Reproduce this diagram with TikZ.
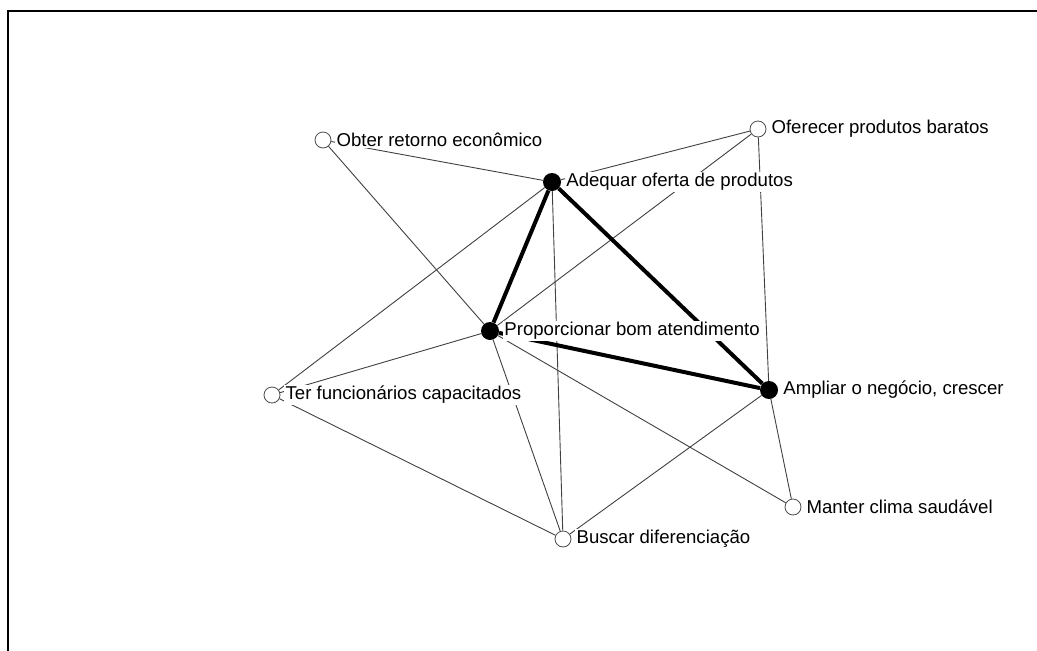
\documentclass[tikz,border=0pt]{standalone}
\usepackage{fontspec}
\setmainfont{Liberation Sans}
\usetikzlibrary{backgrounds}

\begin{document}
\begin{tikzpicture}[x=1pt,y=-1pt,
    open/.style={circle, draw=black!70, fill=white, inner sep=0pt, minimum size=16pt, line width=0.8pt},
    full/.style={circle, fill=black, inner sep=0pt, minimum size=18pt},
    every label/.style={fill=white, inner sep=1.5pt, label distance=3.5pt, font=\fontsize{18.6}{22}\selectfont},
    thinlink/.style={draw=black!75, line width=0.9pt},
    thicklink/.style={draw=black, line width=4pt}]
      \useasboundingbox (0,0) rectangle (1037,651);
      \draw[line width=2pt] (8,651) -- (8,11) -- (1037,11);
      % concepts
      \node[open, label=right:Obter retorno econômico] (obter) at (323,140) {};
      \node[open, label=right:Oferecer produtos baratos] (oferecer) at (758,129) {};
      \node[full, label=right:Adequar oferta de produtos] (adequar) at (552,182) {};
      \node[full, label=right:Proporcionar bom atendimento] (atender) at (490,331) {};
      \node[open, label=right:Ter funcionários capacitados] (ter) at (272,395) {};
      \node[full, label={right:{Ampliar o negócio, crescer}}] (ampliar) at (769,390) {};
      \node[open, label=right:Manter clima saudável] (manter) at (793,507) {};
      \node[open, label=right:Buscar diferenciação] (buscar) at (563,539) {};
      % links
      \begin{scope}[on background layer]
        \draw[thinlink] (obter) -- (adequar);
        \draw[thinlink] (obter) -- (atender);
        \draw[thinlink] (oferecer) -- (adequar);
        \draw[thinlink] (oferecer) -- (atender);
        \draw[thinlink] (oferecer) -- (ampliar);
        \draw[thinlink] (adequar) -- (ter);
        \draw[thinlink] (adequar) -- (buscar);
        \draw[thinlink] (atender) -- (ter);
        \draw[thinlink] (atender) -- (buscar);
        \draw[thinlink] (atender) -- (manter);
        \draw[thinlink] (ter) -- (buscar);
        \draw[thinlink] (buscar) -- (ampliar);
        \draw[thinlink] (ampliar) -- (manter);
        \draw[thicklink] (adequar) -- (atender);
        \draw[thicklink] (adequar) -- (ampliar);
        \draw[thicklink] (atender) -- (ampliar);
      \end{scope}
\end{tikzpicture}
\end{document}
